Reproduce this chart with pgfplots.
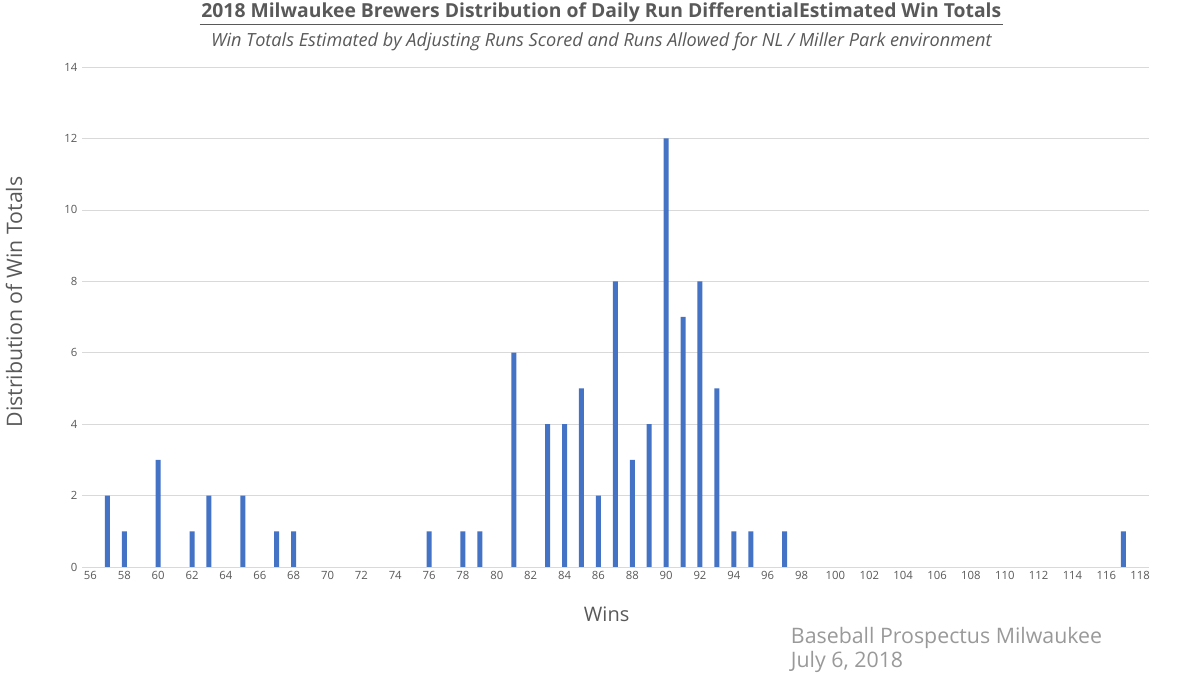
\documentclass[border=0pt]{standalone}
\usepackage{pgfplots}
\pgfplotsset{compat=1.18}
\usepackage{fontspec}
\setmainfont{Open Sans}
\definecolor{bar}{HTML}{4472C4}
\definecolor{txt}{HTML}{595959}
\begin{document}
\begin{tikzpicture}
\path (0,0) rectangle (891.75pt,505.5pt);
\begin{axis}[at={(61.5pt,80.25pt)},anchor=south west,scale only axis,
 width=800pt,height=375pt,xmin=55.5,xmax=118.5,ymin=0,ymax=14,
 xtick={56,58,...,118},ytick={0,2,...,14},
 axis line style={draw=none},major tick length=0pt,
 ymajorgrids,grid style={draw=black!15},
 tick label style={font=\fontsize{8.5}{9}\selectfont,text=txt},
 /pgf/number format/assume math mode=true,
 ybar,bar width=3.75pt]
\draw[black!25] (axis cs:55.5,0) -- (axis cs:118.5,0);
\addplot[fill=bar,draw=none] coordinates {(57,2)(58,1)(60,3)(62,1)(63,2)(65,2)(67,1)(68,1)(76,1)(78,1)(79,1)(81,6)(83,4)(84,4)(85,5)(86,2)(87,8)(88,3)(89,4)(90,12)(91,7)(92,8)(93,5)(94,1)(95,1)(97,1)(117,1)};
\end{axis}
\node[text=txt,font=\bfseries\fontsize{14.5}{16}\selectfont,inner sep=1pt] (T) at (451pt,496pt) {2018 Milwaukee Brewers Distribution of Daily Run DifferentialEstimated Win Totals};
\draw[txt,line width=0.8pt] ([yshift=-0.5pt]T.south west) -- ([yshift=-0.5pt]T.south east);
\node[text=txt,font=\itshape\fontsize{13.6}{15}\selectfont] at (451pt,474pt) {Win Totals Estimated by Adjusting Runs Scored and Runs Allowed for NL / Miller Park environment};
\node[text=txt,font=\fontsize{16}{18}\selectfont,rotate=90] at (10.5pt,279pt) {Distribution of Win Totals};
\node[text=txt,font=\fontsize{15}{17}\selectfont] at (455pt,45pt) {Wins};
\node[text=black!40,font=\fontsize{16}{18}\selectfont,anchor=west,align=left,inner sep=0pt] at (593pt,18pt) {Baseball Prospectus Milwaukee\\July 6, 2018};
\end{tikzpicture}
\end{document}
